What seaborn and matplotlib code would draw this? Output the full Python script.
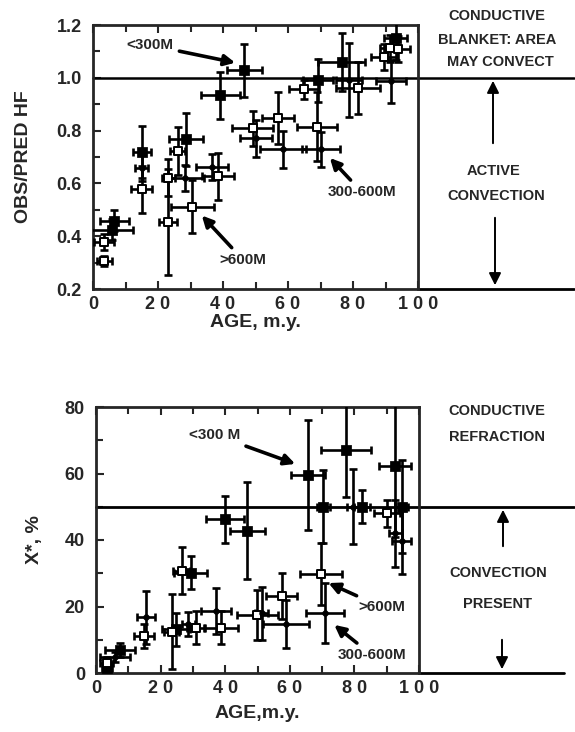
import numpy as np
import pandas as pd
import matplotlib
matplotlib.use("Agg")
import matplotlib.pyplot as plt
import seaborn as sns

# ---- top panel: observed / predicted heat flow ----
hf_young_age = [46.6, 39.1, 76.5, 69.2, 15.0, 28.5, 6.6, 5.7, 93.1]
hf_young_val = [1.028, 0.933, 1.060, 0.990, 0.719, 0.767, 0.458, 0.424, 1.149]
hf_young_xe = [5.3, 6.0, 7.3, 4.5, 2.7, 5.2, 4.4, 6.7, 3.5]
hf_young_ye = [0.10, 0.09, 0.11, 0.08, 0.10, 0.10, 0.04, 0.04, 0.08]

hf_old_age = [64.9, 81.6, 89.5, 91.4, 93.9, 56.8, 49.1, 69.0, 15.0, 26.1, 23.2, 23.0, 30.6, 38.4, 3.4, 3.4]
hf_old_val = [0.956, 0.961, 1.078, 1.111, 1.108, 0.848, 0.808, 0.815, 0.577, 0.723, 0.621, 0.453, 0.512, 0.627, 0.379, 0.306]
hf_old_xe = [4.5, 6.8, 4.0, 3.0, 3.5, 4.9, 6.4, 6.2, 3.3, 2.3, 2.0, 2.8, 6.6, 5.0, 3.0, 2.3]
hf_old_ye = [0.035, 0.10, 0.05, 0.05, 0.05, 0.10, 0.065, 0.13, 0.09, 0.09, 0.07, 0.20, 0.10, 0.09, 0.03, 0.02]

hf_mid_age = [78.8, 91.7, 50.2, 58.4, 70.2, 15.0, 28.3, 36.5]
hf_mid_val = [0.990, 0.986, 0.771, 0.729, 0.729, 0.659, 0.621, 0.662]
hf_mid_xe = [4.0, 4.6, 4.9, 7.0, 5.9, 2.0, 5.9, 4.9]
hf_mid_ye = [0.14, 0.08, 0.07, 0.07, 0.065, 0.05, 0.05, 0.05]

# ---- bottom panel: X*, % ----
xs_young_age = [65.7, 77.4, 92.6, 39.9, 46.9, 70.4, 82.3, 94.6, 29.3, 24.7, 7.4, 3.3]
xs_young_val = [59.5, 67.1, 62.3, 46.2, 42.8, 50.0, 50.0, 50.0, 30.2, 13.1, 6.9, 1.4]
xs_young_xe = [5.3, 7.7, 5.0, 5.9, 5.4, 2.0, 2.5, 2.0, 5.2, 4.4, 4.6, 1.5]
xs_young_ye = [16.5, 14.3, 21.5, 7.0, 14.5, 11.0, 5.0, 14.0, 5.0, 5.0, 2.0, 2.0]

xs_old_age = [69.7, 57.5, 49.9, 26.5, 38.7, 31.0, 23.4, 15.0, 90.0, 3.3]
xs_old_val = [29.8, 23.2, 17.4, 30.8, 13.6, 13.6, 12.4, 11.1, 48.0, 2.9]
xs_old_xe = [6.4, 4.8, 6.3, 2.7, 5.4, 2.8, 2.2, 3.1, 4.0, 2.0]
xs_old_ye = [9.3, 7.0, 7.5, 7.0, 5.0, 5.0, 11.3, 3.5, 4.0, 2.0]

xs_mid_age = [79.6, 92.6, 94.6, 70.9, 58.8, 51.3, 37.2, 28.6, 15.5, 5.9]
xs_mid_val = [50.0, 42.0, 39.8, 18.0, 14.7, 18.0, 18.6, 14.7, 16.7, 4.9]
xs_mid_xe = [2.0, 2.0, 3.0, 5.8, 7.2, 2.0, 4.7, 2.0, 2.8, 4.6]
xs_mid_ye = [11.3, 10.0, 10.0, 9.0, 7.3, 8.0, 7.0, 3.5, 8.0, 1.5]

age_ticks = [0, 20, 40, 60, 80, 100]
age_labels = ["0", "2 0", "4 0", "6 0", "8 0", "1 0 0"]

sns.set_style("ticks")
plt.rcParams['font.family'] = ['Liberation Sans', 'DejaVu Sans']
plt.rcParams['font.weight'] = 'bold'

W, H = 575, 732
fig = plt.figure(figsize=(W / 100, H / 100), dpi=100)


def fx(px):
    return px / W


def fy(py):
    return 1 - py / H


def make_df(groups):
    rows = []
    for name, (a, v, xe, ye) in groups.items():
        for i in range(len(a)):
            rows.append({"group": name, "age": a[i], "val": v[i], "xe": xe[i], "ye": ye[i]})
    return pd.DataFrame(rows)


def draw_points(ax, df):
    ax.errorbar(df["age"], df["val"], xerr=df["xe"], yerr=df["ye"], fmt="none",
                ecolor="black", elinewidth=1.9, capsize=3, capthick=1.9, zorder=3)
    sns.scatterplot(data=df[df.group == "young"], x="age", y="val", ax=ax, marker="s",
                    s=45, color="black", edgecolor="black", zorder=4, legend=False)
    sns.scatterplot(data=df[df.group == "old"], x="age", y="val", ax=ax, marker="s",
                    s=30, facecolor="white", edgecolor="black", linewidth=1.4, zorder=4, legend=False)
    sns.scatterplot(data=df[df.group == "mid"], x="age", y="val", ax=ax, marker="o",
                    s=18, color="black", edgecolor="black", zorder=4, legend=False)


def style_axes(ax):
    for sp in ax.spines.values():
        sp.set_linewidth(2)
        sp.set_visible(True)
    ax.set_xlim(0, 100)
    ax.set_xticks(age_ticks)
    ax.set_xticklabels(age_labels)
    ax.set_xticks(np.arange(10, 100, 10), minor=True)
    ax.tick_params(which="both", direction="in", width=1.5, labelsize=13, top=True)
    ax.tick_params(which="major", length=6)
    ax.tick_params(which="minor", length=5)
    ax.tick_params(axis="x", pad=5)
    ax.tick_params(axis="y", pad=8)


# ---- top panel ----
ax1 = fig.add_axes([fx(93), fy(289), fx(418) - fx(93), fy(25) - fy(289)])
df1 = make_df({
    "young": (hf_young_age, hf_young_val, hf_young_xe, hf_young_ye),
    "old": (hf_old_age, hf_old_val, hf_old_xe, hf_old_ye),
    "mid": (hf_mid_age, hf_mid_val, hf_mid_xe, hf_mid_ye),
})
draw_points(ax1, df1)
style_axes(ax1)
ax1.set_ylim(0.2, 1.2)
ax1.set_yticks([0.2, 0.4, 0.6, 0.8, 1.0, 1.2])
ax1.set_yticklabels(["0.2", "0.4", "0.6", "0.8", "1.0", "1.2"])
ax1.set_yticks(np.arange(0.3, 1.2, 0.2), minor=True)
ax1.set_xlabel("AGE, m.y.", fontsize=14, fontweight="bold", labelpad=1)
ax1.set_ylabel("OBS/PRED HF", fontsize=14, fontweight="bold", labelpad=18)
ax1.plot([0, 148], [1.0, 1.0], color="black", lw=1.8, clip_on=False, zorder=2)
ax1.plot([100, 148], [0.2, 0.2], color="black", lw=2, clip_on=False, zorder=2)

arrow = dict(arrowstyle="-|>", color="black", lw=2.6, mutation_scale=16)
ann = dict(fontsize=11, fontweight="bold", ha="center", va="center", arrowprops=arrow)
ax1.annotate("<300M", xy=(44.6, 1.055), xytext=(17.5, 1.124), **ann)
ax1.annotate(">600M", xy=(32.9, 0.486), xytext=(46.2, 0.31), **ann)
ax1.annotate("300-600M", xy=(72.3, 0.704), xytext=(82.8, 0.566), **ann)

# ---- bottom panel ----
ax2 = fig.add_axes([fx(96), fy(673), fx(419) - fx(96), fy(407) - fy(673)])
df2 = make_df({
    "young": (xs_young_age, xs_young_val, xs_young_xe, xs_young_ye),
    "old": (xs_old_age, xs_old_val, xs_old_xe, xs_old_ye),
    "mid": (xs_mid_age, xs_mid_val, xs_mid_xe, xs_mid_ye),
})
draw_points(ax2, df2)
style_axes(ax2)
ax2.set_ylim(0, 80)
ax2.set_yticks([0, 20, 40, 60, 80])
ax2.set_yticks([10, 30, 50, 70], minor=True)
ax2.set_xlabel("AGE,m.y.", fontsize=14, fontweight="bold", labelpad=6)
ax2.set_ylabel("X*, %", fontsize=14, fontweight="bold", labelpad=16)
ax2.plot([0, 148], [50, 50], color="black", lw=2, clip_on=False, zorder=2)
ax2.plot([100, 145], [0, 0], color="black", lw=2, clip_on=False, zorder=2)

ax2.annotate("<300 M", xy=(62.5, 62.6), xytext=(36.8, 71.6), **ann)
ax2.annotate(">600M", xy=(71.2, 27.4), xytext=(88.5, 19.8), **ann)
ax2.annotate("300-600M", xy=(73.1, 15.0), xytext=(85.4, 5.4), **ann)

# ---- right-hand notes ----
note = dict(fontsize=10.5, fontweight="bold", ha="center", va="center")
fig.text(fx(497), fy(16), "CONDUCTIVE", **note)
fig.text(fx(497), fy(40), "BLANKET: AREA", **note)
fig.text(fx(500), fy(62), "MAY CONVECT", **note)
fig.text(fx(494), fy(171), "ACTIVE", **note)
fig.text(fx(496), fy(196), "CONVECTION", **note)
fig.text(fx(497), fy(411), "CONDUCTIVE", **note)
fig.text(fx(497), fy(437), "REFRACTION", **note)
fig.text(fx(498), fy(573), "CONVECTION", **note)
fig.text(fx(498), fy(604), "PRESENT", **note)

side = dict(arrowstyle="-|>", color="black", lw=1.4, mutation_scale=18)
for x0, y0, y1 in [(493, 146, 78), (495, 215, 288), (503, 549, 507), (502, 637, 672)]:
    fig.add_artist(matplotlib.patches.FancyArrowPatch((fx(x0), fy(y0)), (fx(x0), fy(y1)),
                                                      transform=fig.transFigure, **side))

fig.savefig("out.png", dpi=100)
